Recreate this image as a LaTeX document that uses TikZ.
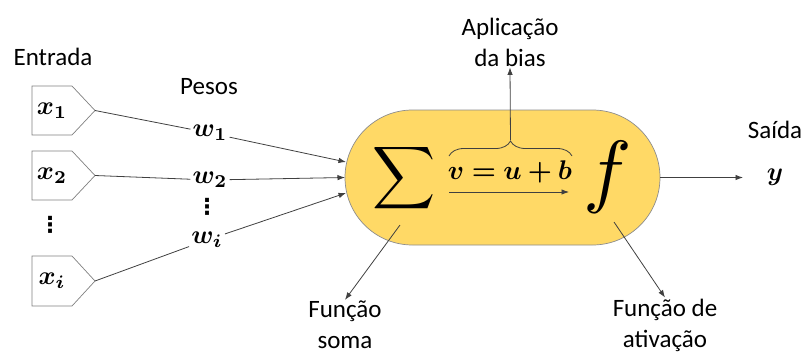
\documentclass[tikz,border=0pt]{standalone}
\usepackage{amsmath}
\usepackage{bm}
\usepackage{graphicx}
\usepackage{fontspec}
\setmainfont{Carlito}
\newfontfamily\dejavu{DejaVu Sans}
\usetikzlibrary{arrows.meta,decorations.pathreplacing}
\definecolor{neuronfill}{RGB}{255,217,102}
\newcommand{\mymath}[2][2.6]{\scalebox{#1}{$#2$}}
\begin{document}
\begin{tikzpicture}[x=1pt,y=-1pt,
  txt/.style={font=\fontsize{25}{31}\selectfont, inner sep=1pt, align=center},
  mth/.style={inner sep=2pt},
  dts/.style={inner sep=0pt, font=\dejavu\bfseries\fontsize{22}{22}\selectfont},
  conn/.style={draw=black!75, line width=0.8pt},
  arr/.style={conn,-{Latex[length=7.5pt,width=5.5pt]}},
  inbox/.style={draw=black!50, line width=0.7pt, fill=white}]
\useasboundingbox (0,0) rectangle (804,354);

% labels
\node[txt] (entrada) at (53,57) {Entrada};
\node[txt] (pesos) at (209,87) {Pesos};

% input boxes
\draw[inbox] (32,86) -- (72,86) -- (95,110.5) -- (72,135) -- (32,135) -- cycle;
\draw[inbox] (32,151) -- (72,151) -- (95,175.5) -- (72,200) -- (32,200) -- cycle;
\draw[inbox] (32,256) -- (72,256) -- (95,281) -- (72,306) -- (32,306) -- cycle;
\coordinate (t1) at (95,110.5);
\coordinate (t2) at (95,175.5);
\coordinate (ti) at (95,281);
\node[mth] (x1) at (52,111) {\mymath{\bm{x_1}}};
\node[mth] (x2) at (52,176) {\mymath{\bm{x_2}}};
\node[dts] (xd) at (50,225) {⋮};
\node[mth] (xi) at (52,281) {\mymath{\bm{x_i}}};

% weights
\node[mth] (w1) at (210,133) {\mymath{\bm{w_1}}};
\node[mth] (w2) at (210,180) {\mymath{\bm{w_2}}};
\node[dts] (wd) at (207,207) {⋮};
\node[mth] (wi) at (207,240) {\mymath{\bm{w_i}}};

% neuron
\node[draw=black!45, line width=0.7pt, fill=neuronfill, rounded corners=67.5pt,
      minimum width=315pt, minimum height=135pt] (neuron) at (502.5,177.5) {};
\coordinate (in1) at (346,162);
\coordinate (in2) at (345,177.5);
\coordinate (in3) at (346,193);

\node[inner sep=0pt] (sigma) at (404,178) {\resizebox*{!}{70pt}{$\displaystyle\sum$}};
\node[inner sep=0pt] (fact) at (608,177) {\resizebox*{!}{72pt}{$f$}};
\node[mth] (vub) at (510,172) {\mymath[2.7]{\bm{v=u+b}}};
\coordinate (vs) at (449,192);
\coordinate (ve) at (569,192);
\draw[arr] (vs) -- (ve);
\draw[conn, decorate, decoration={brace, amplitude=15pt}] (449,156) -- (572,156);
\coordinate (btip) at (510.5,140);

% connectors
\draw[conn] (t1) -- (w1);
\draw[conn] (t2) -- (w2);
\draw[conn] (ti) -- (wi);
\draw[arr] (w1) -- (in1);
\draw[arr] (w2) -- (in2);
\draw[arr] (wi) -- (in3);

% bias
\node[txt] (bias) at (510,42) {Aplicação\\da bias};
\draw[arr] (btip) -- (bias.south);

% output
\node[txt] (saida) at (775,130) {Saída};
\node[mth] (yout) at (775,177) {\mymath{\bm{y}}};
\draw[arr] (neuron.east) -- (743,177.5) coordinate (yend);

% soma
\node[txt] (fsoma) at (345,325) {Função\\soma};
\coordinate (sstart) at (400,225);
\draw[arr] (sstart) -- (fsoma.north);

% ativacao
\node[txt] (fativ) at (665,325) {Função de\\ativação};
\coordinate (astart) at (614,222);
\draw[arr] (astart) -- (fativ.north);
\end{tikzpicture}
\end{document}
